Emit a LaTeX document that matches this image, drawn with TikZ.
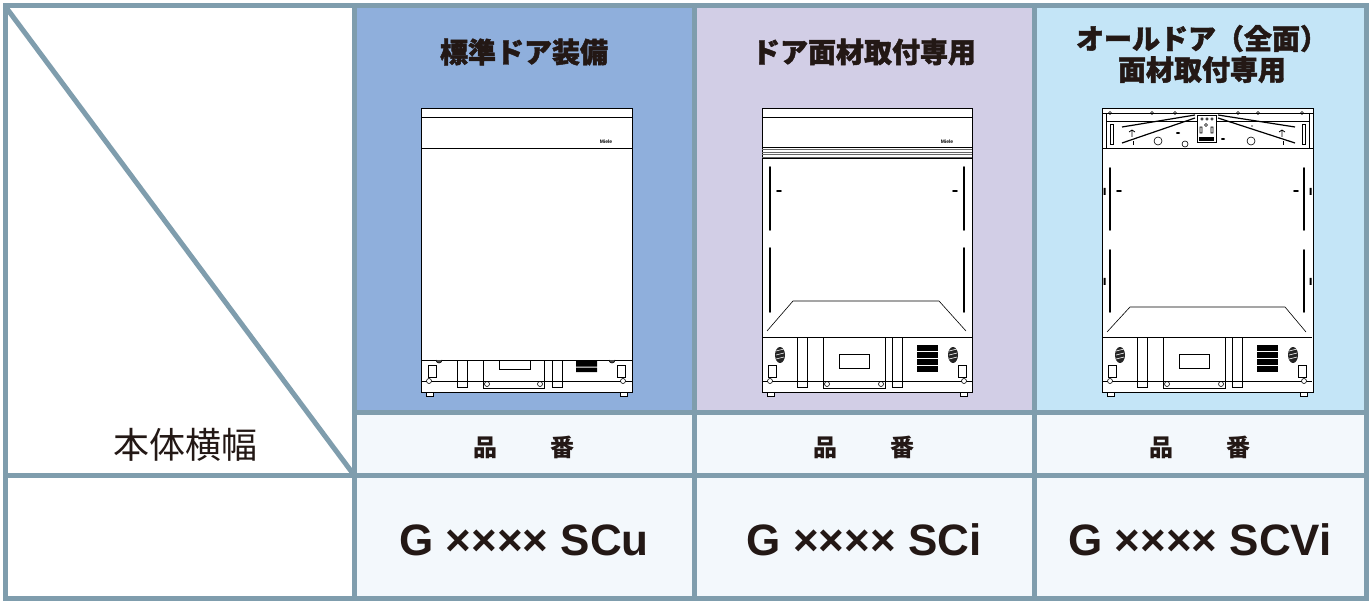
\documentclass[tikz,border=0pt]{standalone}
\usepackage{fontspec}
\usepackage{tikz}
\setmainfont{Liberation Sans}
\newfontfamily\jp{Noto Sans CJK JP}
\newfontfamily\jphead{Noto Sans CJK JP}[BoldFeatures={FakeBold=1.6}]
\definecolor{gridline}{HTML}{7F9DAD}
\definecolor{stdblue}{HTML}{8FAFDC}
\definecolor{panellilac}{HTML}{D2CEE6}
\definecolor{fullcyan}{HTML}{C4E5F7}
\definecolor{rowpale}{HTML}{F3F8FC}
\definecolor{inkdark}{HTML}{231815}
\newcommand{\kickplate}{%
  \draw[ink] (0,229) -- (210,229);
  \draw[fine] (0,273) -- (210,273);
  \draw[fine] (35,229) rectangle (45,279) (130,229) rectangle (140,279);
  \draw[ink] (61,229) rectangle (123,280);
  \draw[fine] (77,246) rectangle (107,260);
  \draw[fine] (65,276) circle (2.5) (119,276) circle (2.5);
  \foreach \v in {237,244,251,258} \fill (155,\v) rectangle (176,\v+6);
  \fill[black!85] (18,247) ellipse (5 and 8) (191,247) ellipse (5 and 8);
  \foreach \k in {-4,0,4} \draw[white,line width=0.6pt] (14,247+\k) -- (22,245+\k) (187,247+\k) -- (195,245+\k);
  \draw[fine] (6,257) rectangle (14,269) (196,257) rectangle (204,269);
  \draw[fine,fill=white] (8,273) circle (2.5) (202,273) circle (2.5);
  \draw[fine,fill=white] (5,284) rectangle (12,288) (198,284) rectangle (205,288);
}
\begin{document}
\begin{tikzpicture}[x=1pt,y=-1pt,
    grid/.style={draw=gridline,line width=5pt},
    ink/.style={draw=black,line width=0.9pt},
    fine/.style={draw=black,line width=0.6pt},
    slot/.style={line width=1.6pt,line cap=round},
    head/.style={font=\jphead\bfseries\fontsize{28}{31}\selectfont,text=inkdark,align=center},
    pno/.style={font=\jp\bfseries\fontsize{24}{26}\selectfont,text=inkdark},
    model/.style={font=\bfseries\fontsize{44}{48}\selectfont,text=inkdark},
    logo/.style={font=\bfseries\fontsize{5}{6}\selectfont,inner sep=0pt}]
  \useasboundingbox (0,0) rectangle (1370,601);
  \fill[white] (0,0) rectangle (1370,601);
  \fill[stdblue] (354,6) rectangle (694,412);
  \fill[panellilac] (694,6) rectangle (1034,412);
  \fill[fullcyan] (1034,6) rectangle (1366,412);
  \fill[rowpale] (354,412) rectangle (1366,598);
  \draw[grid] (5,6) -- (354,475);
  \draw[grid] (5,6) rectangle (1366,598);
  \foreach \cx in {354,694,1034} \draw[grid] (\cx,6) -- (\cx,598);
  \draw[grid] (354,412) -- (1366,412);
  \draw[grid] (5,475) -- (1366,475);

  \begin{scope}[shift={(421,108)}]
    \draw[ink,fill=white] (0,0) rectangle (211,284);
    \draw[ink] (0,9) -- (211,9) (0,40) -- (211,40) (0,252) -- (211,252);
    \node[logo] (logostd) at (185,34) {Miele};
    \draw[fine] (0,273) -- (211,273);
    \draw[fine] (7,257) rectangle (15,269) (196,257) rectangle (204,269);
    \draw[fine] (36,252) rectangle (46,279) (131,252) rectangle (141,279);
    \draw[ink] (62,252) rectangle (123,280);
    \draw[fine] (78,252) |- (109,261) -- (109,252);
    \draw[fine] (66,276) circle (2.5) (119,276) circle (2.5);
    \fill (155,253) rectangle (176,258.5) (155,259.5) rectangle (176,264);
    \draw[fine,fill=black!70] (15,252) arc (180:0:3) (188,252) arc (180:0:3);
    \draw[fine,fill=white] (8,273) circle (2.5) (202,273) circle (2.5);
    \draw[fine,fill=white] (5,284) rectangle (12,288) (199,284) rectangle (206,288);
  \end{scope}

  \begin{scope}[shift={(762,108)}]
    \draw[ink,fill=white] (0,0) rectangle (210,284);
    \draw[ink] (0,9) -- (210,9) (0,39) -- (210,39) (0,50) -- (210,50);
    \foreach \h in {41.5,44,46.5,49} \draw[black!60,line width=0.6pt] (0,\h) -- (210,\h);
    \node[logo] (logopanel) at (185,34) {Miele};
    \draw[slot] (8,59) -- (8,122) (8,140) -- (8,204) (202,59) -- (202,122) (202,140) -- (202,204);
    \draw[slot] (15,83) -- (19,83) (191,83) -- (195,83);
    \draw[fine] (5,223) -- (31,193) -- (177,193) -- (204,223);
    \kickplate
  \end{scope}

  \begin{scope}[shift={(1102,108)}]
    \draw[ink,fill=white] (0,0) rectangle (211,284);
    \draw[ink] (0,40) -- (211,40);
    \draw[fine] (0,5) -- (211,5) (4,5) -- (4,40) (207,5) -- (207,40);
    \draw[fine] (4,13) -- (95,13) (114,13) -- (207,13);
    \foreach \px in {8,50,73,136,156,200} \draw[fine] (\px,5) circle (1.5);
    \draw[fine] (8,16) rectangle (11,36) (200,16) rectangle (203,36);
    \draw[line width=1.2pt] (20,19) -- (93,7) (20,35) -- (93,10) (116,7) -- (193,19) (116,10) -- (193,35);
    \draw[fine,fill=white] (95,7) rectangle (114,34);
    \foreach \px in {100,105,110} \draw[fine] (\px,11) circle (1.3);
    \draw[fine] (104,17) circle (1.5) (98,19) rectangle (100,25) (109,19) rectangle (111,25);
    \fill (97,29) rectangle (112,33);
    \draw[fine] (56,33) circle (4) (149,33) circle (4) (83,36) circle (3);
    \draw[line width=0.8pt] (30,23) -- (30,29) (27,24) -- (30,22) -- (33,24) (180,23) -- (180,29) (177,24) -- (180,22) -- (183,24);
    \draw[line width=0.8pt] (31,33) -- (31,37) (181,33) -- (181,37);
    \fill (76,25) ellipse (2 and 1) (121,31) ellipse (2 and 1) (150,18) ellipse (1 and 0.6);
    \fill (1.5,80) rectangle (3.5,87) (1.5,170) rectangle (3.5,177) (207.5,80) rectangle (209.5,87) (207.5,170) rectangle (209.5,177);
    \draw[slot] (8,60) -- (8,122) (8,142) -- (8,204) (202,60) -- (202,122) (202,142) -- (202,204);
    \draw[slot] (15,83) -- (19,83) (192,83) -- (196,83);
    \draw[fine] (5,224) -- (28,199) -- (183,199) -- (204,224);
    \kickplate
  \end{scope}

  \node[head] (hdstd) at (524,52) {標準ドア装備};
  \node[head] (hdpanel) at (864,52) {ドア面材取付専用};
  \node[head] (hdfull) at (1202,54) {オールドア（全面）\\面材取付専用};
  \node[font=\jp\fontsize{36}{38}\selectfont,text=inkdark] (bodyw) at (185,445) {本体横幅};
  \foreach \cx/\nm in {524/std,864/panel,1200/full}
    \node[pno] (pn\nm) at (\cx,447) {品\hspace{2.2em}番};
  \node[model] (mdstd) at (524,540) {G ×××× SCu};
  \node[model] (mdpanel) at (864,540) {G ×××× SCi};
  \node[model] (mdfull) at (1200,540) {G ×××× SCVi};
\end{tikzpicture}
\end{document}
